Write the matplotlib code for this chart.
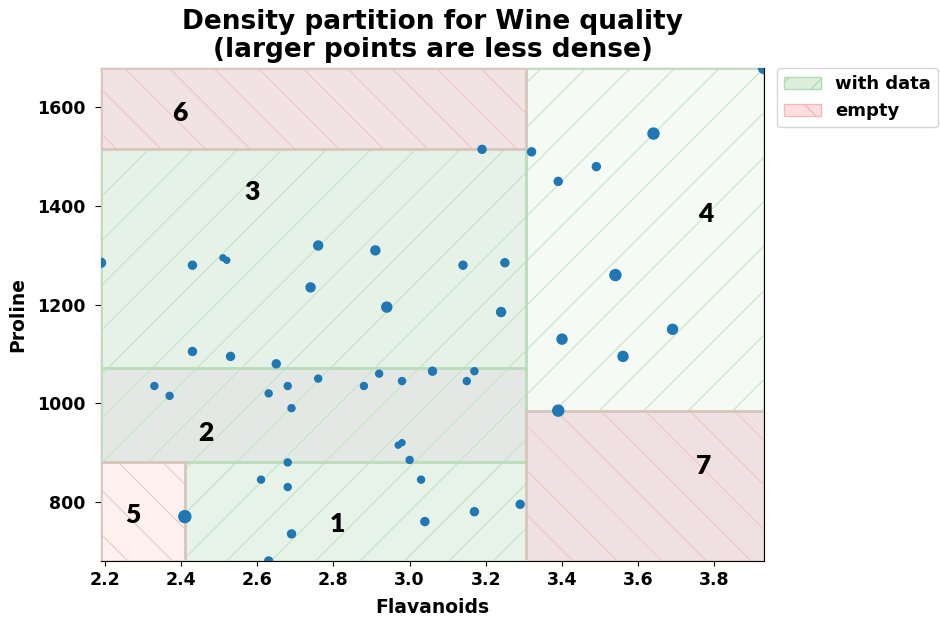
import numpy as np
import matplotlib
matplotlib.use('Agg')
import matplotlib.pyplot as plt
from matplotlib.patches import Rectangle, Patch
from matplotlib.collections import LineCollection
from matplotlib.transforms import IdentityTransform

# --- Datos (clase 0 del dataset Wine) ---
flavanoids = [2.19, 2.43, 2.51, 2.52, 2.76, 2.91, 3.14, 3.25, 2.74, 2.94, 3.24,
              2.43, 2.53, 2.65, 3.19,
              2.76, 2.92, 3.06, 3.17, 3.15, 2.98, 2.88, 2.68, 2.63, 2.69, 2.33,
              2.37, 2.97, 2.98, 3.00, 2.68,
              2.61, 2.68, 3.03, 2.41, 2.69, 3.04, 3.17, 3.29, 2.63,
              3.32, 3.39, 3.49, 3.64, 3.54, 3.40, 3.69, 3.56, 3.39, 3.93]
proline = [1285, 1280, 1295, 1290, 1320, 1310, 1280, 1285, 1235, 1195, 1185,
           1105, 1095, 1080, 1515,
           1050, 1060, 1065, 1065, 1045, 1045, 1035, 1035, 1020, 990, 1035,
           1015, 915, 920, 885, 880,
           845, 830, 845, 770, 735, 760, 780, 795, 680,
           1510, 1450, 1480, 1547, 1260, 1130, 1150, 1095, 985, 1680]
# diámetro aparente (px): mayor = menos denso
point_diam = [9, 8, 6, 6, 9, 9, 8, 8, 9, 10, 9,
              8, 8, 8, 8,
              7, 7, 8, 7, 7, 7, 7, 7, 7, 7, 7,
              7, 6, 6, 7, 7,
              7, 7, 7, 12, 8, 8, 8, 8, 8,
              8, 8, 8, 11, 11, 10, 10, 10, 11, 11]

# --- Particiones ---
region_id = [1, 2, 3, 4, 5, 6, 7]
region_x0 = [2.41, 2.19, 2.19, 3.305, 2.19, 2.19, 3.305]
region_x1 = [3.305, 3.305, 3.305, 3.93, 2.41, 3.305, 3.93]
region_y0 = [680, 880, 1072, 985, 680, 1515, 680]
region_y1 = [880, 1072, 1515, 1680, 880, 1680, 985]
region_has_data = [True, True, True, True, False, False, False]
region_face = ['#e7f2e8', '#e4e8e4', '#e6f1e7', '#f5faf5', '#fff1ef', '#f1e2e4', '#efe1e3']
label_x = [2.81, 2.466, 2.586, 3.777, 2.273, 2.398, 3.772]
label_y = [755, 940, 1429, 1383, 774, 1588, 873]

GREEN_EDGE = '#bcdcbc'
RED_EDGE = '#dcc4bc'
GREEN_HATCH = '#c4e4c4'
RED_HATCH = '#f3c4c4'

fig = plt.figure(figsize=(9.4, 6.21), dpi=100)
ax = fig.add_axes([101 / 940, 1 - 561 / 621, 663 / 940, 493 / 621])
ax.set_xlim(2.19, 3.93)
ax.set_ylim(680, 1680)


def hatch_rect(ax, rect, slope, color, step=44.5, offset=0.0):
    # lineas de trama a 45 grados en pixeles, recortadas al rectangulo
    (x0, y0), (x1, y1) = ax.transAxes.transform([(0, 0), (1, 1)])
    span = (x1 - x0) + (y1 - y0)
    segs = []
    for c in np.arange(-2000, 2000, step) + offset:
        if slope > 0:   # y - x = c
            segs.append([(x0 - 10, x0 - 10 + c), (x0 + span, x0 + span + c)])
        else:           # x + y = c
            segs.append([(x0 - 10, c - x0 + 10), (x0 + span, c - x0 - span)])
    lc = LineCollection(segs, colors=color, linewidths=0.8,
                        transform=IdentityTransform(), zorder=2)
    ax.add_collection(lc, autolim=False)
    lc.set_clip_path(rect)


for i in range(len(region_id)):
    edge = GREEN_EDGE if region_has_data[i] else RED_EDGE
    rect = Rectangle((region_x0[i], region_y0[i]), region_x1[i] - region_x0[i],
                     region_y1[i] - region_y0[i], facecolor=region_face[i],
                     edgecolor='none', zorder=1)
    ax.add_patch(rect)
    if region_has_data[i]:
        hatch_rect(ax, rect, 1, GREEN_HATCH, offset=9)
    else:
        hatch_rect(ax, rect, -1, RED_HATCH, offset=7.5)
    ax.add_patch(Rectangle((region_x0[i], region_y0[i]), region_x1[i] - region_x0[i],
                           region_y1[i] - region_y0[i], facecolor='none',
                           edgecolor=edge, linewidth=1.8, zorder=3))
    ax.text(label_x[i], label_y[i], str(region_id[i]), fontsize=19,
            fontweight='heavy', family='Lato', ha='center', va='center', zorder=5)

sizes = [(0.72 * d) ** 2 for d in point_diam]
ax.scatter(flavanoids, proline, s=sizes, color='#1f77b4', zorder=4)

ax.set_xticks([2.2, 2.4, 2.6, 2.8, 3.0, 3.2, 3.4, 3.6, 3.8])
ax.set_yticks([800, 1000, 1200, 1400, 1600])
for lab in ax.get_xticklabels() + ax.get_yticklabels():
    lab.set_fontweight('bold')
    lab.set_fontsize(12.5)
ax.tick_params(axis='y', pad=6.5, length=4.5)
ax.set_xlabel('Flavanoids', fontsize=13.5, fontweight='bold', labelpad=7)
ax.set_ylabel('Proline', fontsize=13.5, fontweight='bold', labelpad=7)
ax.set_title('Density partition for Wine quality\n(larger points are less dense)',
             fontsize=19, fontweight='bold', pad=8, linespacing=1.1)

handles = [Patch(facecolor='#dcefdc', edgecolor='#b4dab4', hatch='/', label='with data'),
           Patch(facecolor='#ffdede', edgecolor='#f6b8b8', hatch='\\', label='empty')]
ax.legend(handles=handles, loc='upper left', bbox_to_anchor=(1.02, 1.0),
          borderaxespad=0, prop={'weight': 'bold', 'size': 13})

fig.savefig('out.png', dpi=100)
